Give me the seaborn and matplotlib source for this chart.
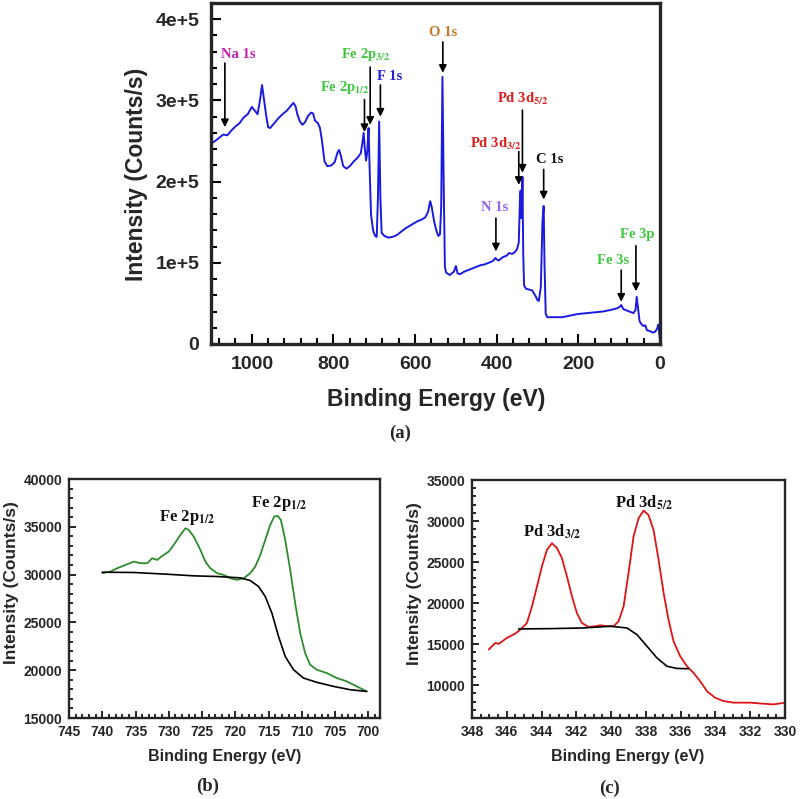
import numpy as np
import pandas as pd
import matplotlib
matplotlib.use("Agg")
import matplotlib.pyplot as plt
import seaborn as sns
from matplotlib.ticker import MultipleLocator, FuncFormatter

# ---------------- data: survey (a) ----------------
survey_be = [1100, 1090, 1080, 1070, 1060, 1050, 1040, 1030, 1020, 1010, 1000, 992, 986, 980, 975, 970,
             965, 960, 955, 945, 935, 925, 915, 905, 898, 893, 888, 882, 876, 870, 862, 855, 850, 845,
             838, 833, 828, 822, 815, 805, 797, 790, 786, 782, 776, 768, 760, 750, 740, 733, 729, 726,
             723, 720, 717, 714, 711, 708, 703, 698, 694, 691, 688, 685, 682, 675, 665, 655, 645, 635,
             625, 615, 605, 595, 585, 575, 568, 563, 559, 553, 548, 543, 539, 536, 533, 530, 527, 524,
             515, 505, 500, 496, 490, 480, 470, 460, 450, 440, 430, 420, 410, 403, 400, 395, 385, 375,
             370, 362, 356, 350, 346, 343, 341.5, 340, 338, 337, 335, 333, 328, 320, 313, 306, 300, 297,
             292, 288, 285, 283, 280, 276, 260, 240, 220, 200, 180, 160, 140, 120, 105, 98, 95, 90, 80,
             70, 65, 60, 57, 54, 50, 45, 40, 36, 32, 25, 18, 12, 7, 4, 2, 0]
survey_k = [247, 250, 254, 258, 257, 263, 268, 272, 279, 283, 292, 287, 283, 300, 319, 300,
            282, 267, 266, 272, 278, 283, 287, 293, 297, 293, 282, 274, 270, 273, 281, 285, 284, 275,
            272, 266, 250, 225, 219, 220, 224, 236, 239, 232, 219, 216, 219, 225, 230, 235, 248, 260,
            240, 226, 238, 266, 210, 160, 140, 133, 132, 180, 274, 180, 137, 133, 131, 132, 134, 138,
            142, 145, 148, 151, 153, 156, 163, 176, 168, 150, 140, 133, 135, 170, 329, 200, 95, 88,
            85, 89, 96, 87, 86, 89, 91, 93, 95, 97, 98, 100, 102, 106, 104, 103, 107, 109,
            112, 111, 113, 117, 125, 180, 189, 155, 170, 206, 110, 72, 68, 67, 66, 60, 54, 53,
            70, 150, 170, 100, 37, 33, 33, 33, 35, 37, 38, 39, 40, 42, 44, 46, 48, 43, 41,
            39, 38, 42, 58, 45, 28, 24, 22, 23, 17, 16, 14, 15, 19, 24, 15, 5]
survey_counts = [v * 1000 for v in survey_k]

# ---------------- data: Fe 2p (b) ----------------
fe_be = [740, 738.75, 737.75, 736.5, 735.25, 734.25, 733.25, 732.5, 731.75, 730.75, 730, 729.25, 728.25,
         727.5, 727, 726.25, 725.25, 724.5, 723.75, 722.75, 721.75, 720.75, 719.75, 718.75, 717.75, 717,
         716.25, 715.5, 714.75, 714.15, 713.65, 713.15, 712.5, 711.75, 711, 710.25, 709.5, 708.75,
         707.75, 706.25, 704.75, 703.25, 701.75, 700.25]
fe_counts = [30150, 30320, 30670, 31020, 31360, 31190, 31190, 31710, 31540, 32060, 32410, 33110, 34150,
             34850, 34670, 33980, 32580, 31360, 30670, 30150, 29970, 29620, 29450, 29620, 30150, 30840,
             32060, 33630, 35200, 36070, 36140, 35720, 33630, 30490, 27010, 23880, 21790, 20570,
             20050, 19700, 19180, 18830, 18310, 17780]
fe_bg_be = [740, 735.25, 730.25, 726.25, 722.75, 719.25, 717.75, 716.5, 715.5, 714.5, 713.5, 712.5,
            711.25, 709.75, 707.75, 705.25, 702.75, 700.25]
fe_bg_counts = [30250, 30220, 30040, 29870, 29800, 29660, 29380, 28750, 27710, 25970, 23530, 21440,
                20050, 19180, 18730, 18310, 17960, 17780]

# ---------------- data: Pd 3d (c) ----------------
pd_be = [347.04, 346.66, 346.47, 345.99, 345.51, 345.22, 344.84, 344.55, 344.26, 343.98, 343.69, 343.40,
         343.11, 342.83, 342.54, 342.25, 341.97, 341.68, 341.30, 340.91, 340.62, 340.24, 339.86, 339.57,
         339.28, 339.00, 338.71, 338.42, 338.13, 337.85, 337.56, 337.27, 336.98, 336.70, 336.41, 336.03,
         335.64, 335.26, 334.88, 334.49, 334.02, 333.54, 332.96, 332.00, 331.24, 330.66, 330.0]
pd_counts = [14340, 15150, 15030, 15760, 16290, 16770, 17580, 19610, 22040, 24470, 26490, 27300,
             26700, 25480, 23250, 20820, 18800, 17580, 17100, 17180, 17300, 17180, 17180, 17790,
             19610, 23650, 28110, 30340, 31270, 30740, 28920, 25280, 21230, 17990, 15350, 13530,
             12310, 11500, 10490, 9280, 8470, 8070, 7870, 7870, 7740, 7660, 7870]
pd_bg_be = [345.32, 343.50, 341.58, 340.05, 339.09, 338.52, 337.94, 337.37, 336.79, 336.22, 335.55]
pd_bg_counts = [16850, 16890, 16970, 17180, 16970, 16170, 14750, 13330, 12310, 12040, 12000]

# ---------------- peak labels for survey ----------------
lbl_text = ["Na 1s", r"Fe 2p$_{\mathbf{3/2}}$", r"Fe 2p$_{\mathbf{1/2}}$", "F 1s", "O 1s",
            r"Pd 3d$_{\mathbf{5/2}}$", r"Pd 3d$_{\mathbf{3/2}}$", "C 1s", "N 1s", "Fe 3s", "Fe 3p"]
lbl_color = ["#c21fb4", "#3cc83c", "#3cc83c", "#2222dd", "#c97628", "#e01919",
             "#e01919", "#111111", "#9a62ea", "#3cc83c", "#3cc83c"]
lbl_pos = [(1032, 356e3), (720, 357e3), (773, 316e3), (663, 329e3), (532, 384e3), (337, 302e3),
           (402, 247e3), (271, 227e3), (405, 168e3), (114, 103e3), (56, 135e3)]
arr_x = [1066, 710, 724, 685, 532, 337, 346, 285, 402, 95, 59]
arr_y0 = [346e3, 341e3, 301e3, 319e3, 372e3, 288e3, 237e3, 215e3, 155e3, 91e3, 121e3]
arr_y1 = [267e3, 270e3, 261e3, 280e3, 334e3, 211e3, 196e3, 178e3, 114e3, 52e3, 65e3]

# ---------------- style ----------------
sns.set_theme(style="ticks")
plt.rcParams["font.family"] = ["Liberation Sans", "DejaVu Sans"]
plt.rcParams["font.weight"] = "bold"
plt.rcParams["axes.labelweight"] = "bold"
plt.rcParams["mathtext.fontset"] = "stix"

W, H = 800, 799
fig = plt.figure(figsize=(W / 100, H / 100), dpi=100)


def rect(l, r, t, b):
    return [l / W, 1 - b / H, (r - l) / W, (b - t) / H]


axA = fig.add_axes(rect(211, 660, 3, 344))
axB = fig.add_axes(rect(69, 380, 479, 718))
axC = fig.add_axes(rect(472, 785, 480, 718))

# ----- (a) survey -----
dfA = pd.DataFrame({"be": survey_be, "counts": survey_counts})
sns.lineplot(data=dfA, x="be", y="counts", ax=axA, color="#1a1ae0", lw=1.4, sort=False, estimator=None)
axA.set_xlim(1100, 0)
axA.set_ylim(0, 4.2e5)
axA.xaxis.set_major_locator(MultipleLocator(200))
axA.xaxis.set_minor_locator(MultipleLocator(40))
axA.yaxis.set_major_locator(MultipleLocator(1e5))
axA.yaxis.set_minor_locator(MultipleLocator(2e4))
axA.tick_params(which="both", direction="in", width=1.5, color="black", bottom=True, left=True,
                top=False, right=False, labelsize=14, pad=8.5)
axA.tick_params(which="major", length=7.5)
axA.tick_params(which="minor", length=4.5)
for s in axA.spines.values():
    s.set_linewidth(2.4)


def sci(v, pos):
    if abs(v) < 1:
        return "0"
    return "%de+5" % round(v / 1e5)


axA.yaxis.set_major_formatter(FuncFormatter(sci))
axA.xaxis.set_major_formatter(FuncFormatter(lambda v, p: "%d" % round(v)))
axA.set_xlabel("Binding Energy (eV)", fontsize=16.5, fontweight="bold")
axA.set_ylabel("Intensity (Counts/s)", fontsize=16.5, fontweight="bold")
axA.xaxis.set_label_coords(0.501, -0.128)
axA.yaxis.set_label_coords(-0.140, 0.4985)

for t, c, (tx, ty), xa, y0, y1 in zip(lbl_text, lbl_color, lbl_pos, arr_x, arr_y0, arr_y1):
    axA.text(tx, ty, t, color=c, fontsize=10.5, fontweight="bold", family="Liberation Serif",
             ha="center", va="center")
    axA.annotate("", xy=(xa, y1), xytext=(xa, y0),
                 arrowprops=dict(arrowstyle="-|>", lw=1.2, color="black", mutation_scale=11,
                                 shrinkA=0, shrinkB=0))

# ----- (b) Fe 2p -----
dfB = pd.DataFrame({"be": fe_be, "counts": fe_counts})
dfBb = pd.DataFrame({"be": fe_bg_be, "counts": fe_bg_counts})
sns.lineplot(data=dfB, x="be", y="counts", ax=axB, color="#2e8b2e", lw=1.3, sort=False, estimator=None)
sns.lineplot(data=dfBb, x="be", y="counts", ax=axB, color="black", lw=1.2, sort=False, estimator=None)
axB.set_xlim(745, 698.25)
axB.set_ylim(15000, 40000)
axB.xaxis.set_major_locator(MultipleLocator(5))
axB.xaxis.set_minor_locator(MultipleLocator(1))
axB.yaxis.set_major_locator(MultipleLocator(5000))
axB.yaxis.set_minor_locator(MultipleLocator(1000))
axB.text(727.2, 36025, r"Fe 2p$_{\mathbf{1/2}}$", fontsize=12, fontweight="bold",
         family="Liberation Serif", ha="center", va="center", color="#111111")
axB.text(713.4, 37400, r"Fe 2p$_{\mathbf{1/2}}$", fontsize=12, fontweight="bold",
         family="Liberation Serif", ha="center", va="center", color="#111111")

# ----- (c) Pd 3d -----
dfC = pd.DataFrame({"be": pd_be, "counts": pd_counts})
dfCb = pd.DataFrame({"be": pd_bg_be, "counts": pd_bg_counts})
sns.lineplot(data=dfC, x="be", y="counts", ax=axC, color="#dd1515", lw=1.3, sort=False, estimator=None)
sns.lineplot(data=dfCb, x="be", y="counts", ax=axC, color="black", lw=1.2, sort=False, estimator=None)
axC.set_xlim(348, 330)
axC.set_ylim(6000, 35000)
axC.xaxis.set_major_locator(MultipleLocator(2))
axC.xaxis.set_minor_locator(MultipleLocator(0.5))
axC.yaxis.set_major_locator(MultipleLocator(5000))
axC.yaxis.set_minor_locator(MultipleLocator(1000))
axC.text(343.4, 28680, r"Pd 3d$_{\mathbf{3/2}}$", fontsize=12, fontweight="bold",
         family="Liberation Serif", ha="center", va="center", color="#111111")
axC.text(338.1, 32200, r"Pd 3d$_{\mathbf{5/2}}$", fontsize=12, fontweight="bold",
         family="Liberation Serif", ha="center", va="center", color="#111111")

for ax in (axB, axC):
    ax.tick_params(which="both", direction="in", width=1.2, color="black", bottom=True, left=True,
                   top=False, right=False, labelsize=10, pad=5)
    ax.tick_params(which="major", length=5)
    ax.tick_params(which="minor", length=3)
    for s in ax.spines.values():
        s.set_linewidth(1.7)
    ax.xaxis.set_major_formatter(FuncFormatter(lambda v, p: "%d" % round(v)))
    ax.yaxis.set_major_formatter(FuncFormatter(lambda v, p: "%d" % round(v)))
    ax.set_xlabel("Binding Energy (eV)", fontsize=11.5, fontweight="bold")
    ax.set_ylabel("Intensity (Counts/s)", fontsize=12.5, fontweight="bold")

axB.xaxis.set_label_coords(0.5016, -0.13)
axB.yaxis.set_label_coords(-0.161, 0.567)
axC.xaxis.set_label_coords(0.498, -0.13)
axC.yaxis.set_label_coords(-0.160, 0.563)

# panel letters
fig.text(400 / W, 1 - 433 / H, "(a)", fontsize=13.5, fontweight="bold", family="Liberation Serif",
         ha="center", va="center")
fig.text(208 / W, 1 - 786 / H, "(b)", fontsize=13.5, fontweight="bold", family="Liberation Serif",
         ha="center", va="center")
fig.text(609 / W, 1 - 788 / H, "(c)", fontsize=13.5, fontweight="bold", family="Liberation Serif",
         ha="center", va="center")

fig.savefig("out.png", dpi=100, facecolor="white")
